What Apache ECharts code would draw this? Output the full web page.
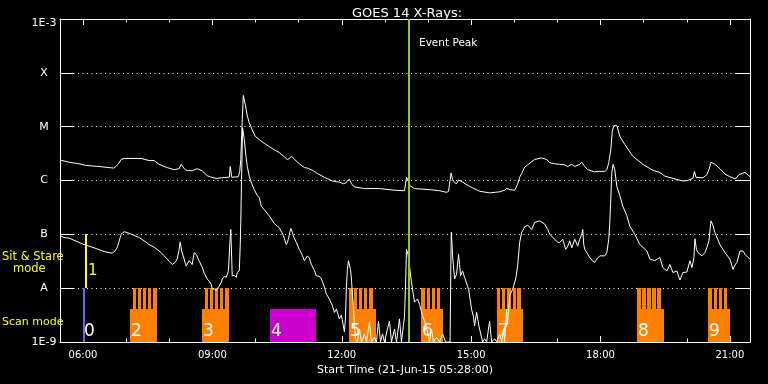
<!DOCTYPE html>
<html><head><meta charset="utf-8">
<script src="https://cdn.jsdelivr.net/npm/echarts@6/dist/echarts.min.js"></script>
<style>html,body{margin:0;padding:0;background:#000}#c{width:768px;height:384px}</style>
</head><body><div id="c"></div><script>
// Time: minutes after 00:00 UT, 21-Jun-2015.  Flux: log10(W/m^2).
const titleText = 'GOES 14 X-Rays:';
const axisTitle = 'Start Time (21-Jun-15 05:28:00)';
const timeMin = 328, timeMax = 1288;
const yLevels = [-9, -8, -7, -6, -5, -4, -3];
const yLabels = ['1E-9', 'A', 'B', 'C', 'M', 'X', '1E-3'];
const hourTicks = [360,420,480,540,600,660,720,780,840,900,960,1020,1080,1140,1200,1260];
const labelTicks = [360,540,720,900,1080,1260];
const eventPeak = 814;

// GOES long channel (1-8 A)
const longChannel = [[328,-5.62],[340.5,-5.66],[354.5,-5.69],[364.2,-5.72],[382.3,-5.74],[403.2,-5.77],[408.8,-5.70],[413,-5.61],[417.2,-5.59],[440.9,-5.59],[452,-5.63],[459,-5.63],[465.9,-5.70],[477.1,-5.76],[486.8,-5.80],[493.8,-5.78],[496.6,-5.70],[500.8,-5.78],[503.6,-5.81],[511.9,-5.82],[518.9,-5.78],[525.9,-5.82],[532.8,-5.91],[538.4,-5.94],[545.4,-5.96],[560.7,-5.94],[563.5,-5.94],[564.9,-5.74],[567,-5.94],[576,-5.93],[578.1,-5.83],[579.5,-5.61],[581.6,-4.87],[583,-4.42],[585.8,-4.59],[588.6,-4.80],[591.3,-4.93],[595.5,-5.06],[599.7,-5.18],[605.3,-5.24],[612.2,-5.31],[619.2,-5.37],[626.2,-5.43],[633.1,-5.48],[640.1,-5.56],[644.3,-5.61],[647.1,-5.59],[649.9,-5.55],[654,-5.60],[656.8,-5.64],[661,-5.69],[668,-5.76],[672.2,-5.77],[674.9,-5.75],[680.5,-5.82],[686.1,-5.87],[695.8,-5.94],[707,-6.01],[716.7,-6.03],[722.3,-6.06],[726.5,-6.04],[727.9,-6.00],[730.7,-5.98],[733.5,-6.06],[737.6,-6.12],[751.6,-6.15],[772.5,-6.15],[793.4,-6.18],[807.3,-6.19],[809.4,-6.17],[810.1,-5.94],[812.9,-6.02],[814.3,-6.09],[821.2,-6.15],[842.1,-6.17],[856.1,-6.19],[865.8,-6.22],[868.6,-6.20],[870.7,-6.19],[872.1,-5.86],[874.2,-5.98],[877,-6.04],[879.8,-6.06],[882.5,-5.99],[888.1,-6.03],[897.9,-6.11],[911.8,-6.20],[925.7,-6.23],[939.7,-6.21],[946.6,-6.18],[949.4,-6.15],[955,-6.17],[960.6,-6.18],[964.7,-6.07],[967.5,-5.94],[970.3,-5.87],[974.5,-5.75],[978.7,-5.71],[984.3,-5.65],[988.4,-5.61],[997.8,-5.58],[1005.2,-5.61],[1009.3,-5.67],[1016.3,-5.69],[1023.3,-5.70],[1030.2,-5.71],[1034.4,-5.74],[1040,-5.70],[1044.2,-5.74],[1051.1,-5.70],[1053.9,-5.66],[1056,-5.64],[1058.1,-5.74],[1062.3,-5.80],[1072,-5.84],[1079,-5.83],[1086,-5.83],[1088.8,-5.80],[1091.5,-5.67],[1094.3,-5.43],[1096.4,-5.09],[1098.5,-4.98],[1099.9,-4.95],[1102.7,-4.98],[1106.9,-5.18],[1113.8,-5.33],[1125,-5.55],[1138.9,-5.70],[1152.8,-5.81],[1162.6,-5.85],[1169.6,-5.92],[1183.5,-5.97],[1194.6,-6.01],[1201.6,-6.00],[1204.4,-5.98],[1208.6,-5.96],[1210.7,-5.83],[1212.8,-5.94],[1214.2,-5.96],[1222.5,-5.95],[1228.1,-5.89],[1230.9,-5.80],[1233.7,-5.66],[1239.2,-5.70],[1246.2,-5.78],[1253.2,-5.88],[1260.1,-5.93],[1267.1,-5.97],[1269.9,-5.94],[1272.7,-5.89],[1281,-5.85],[1288,-5.93]];

// GOES short channel (0.5-4 A)
const shortChannel = [[328,-7.02],[333.6,-7.06],[340.5,-7.07],[347.5,-7.11],[361.4,-7.19],[375.4,-7.25],[389.3,-7.32],[400.5,-7.35],[404.6,-7.31],[407.4,-7.25],[410.2,-7.13],[413,-7.00],[417.2,-6.95],[424.1,-6.98],[431.1,-7.02],[438.1,-7.06],[445,-7.12],[452,-7.19],[459,-7.24],[463.2,-7.28],[468.7,-7.34],[472.9,-7.40],[479.9,-7.50],[484.1,-7.56],[488.2,-7.52],[491,-7.46],[493.8,-7.28],[495.2,-7.14],[497.3,-7.31],[499.4,-7.40],[503.6,-7.59],[507.7,-7.49],[511.9,-7.56],[514.7,-7.34],[517.5,-7.37],[521.7,-7.50],[525.9,-7.61],[528.6,-7.72],[532.8,-7.83],[535.6,-7.87],[538.4,-7.93],[539.8,-8.01],[542.6,-8.02],[545.4,-8.04],[546.8,-8.05],[549.5,-7.96],[552.3,-7.89],[553.7,-7.83],[556.5,-7.78],[559.3,-7.80],[562.1,-7.69],[562.8,-7.57],[564.2,-7.19],[565.6,-6.91],[567,-7.50],[567.6,-7.77],[570.4,-7.76],[573.2,-7.80],[574.6,-7.71],[577.4,-7.68],[578.8,-7.19],[579.5,-6.78],[580.6,-5.98],[582,-5.02],[584.4,-5.24],[586.7,-5.55],[588.6,-5.74],[591.3,-5.92],[594.8,-6.06],[598.3,-6.17],[602.5,-6.28],[605.3,-6.32],[608.1,-6.48],[612.2,-6.54],[619.2,-6.66],[626.2,-6.80],[633.1,-6.88],[638.7,-7.02],[642.9,-7.19],[644.3,-7.15],[645.7,-7.09],[647.8,-6.96],[649.2,-6.89],[651.3,-6.96],[652.6,-7.03],[656.8,-7.15],[661,-7.28],[665.2,-7.39],[668,-7.49],[672.2,-7.40],[674.9,-7.44],[677.7,-7.56],[681.9,-7.67],[684.7,-7.77],[688.9,-7.78],[691.7,-7.83],[695.8,-7.98],[698.6,-8.11],[702.8,-8.20],[707,-8.33],[709.8,-8.45],[712.6,-8.39],[714,-8.39],[716.7,-8.57],[719.5,-8.50],[720.9,-8.51],[723.7,-8.81],[725.1,-8.57],[726.5,-7.96],[727.9,-7.65],[729.3,-7.49],[730.7,-7.52],[732.1,-7.65],[733.5,-7.83],[734.8,-8.11],[736.2,-8.33],[737.6,-8.67],[739,-8.94],[741.8,-9],[744.6,-8.76],[747.4,-9],[751.6,-8.85],[754.4,-9],[758.5,-8.63],[761.3,-9],[765.5,-8.91],[768.3,-9],[771.1,-8.61],[773.9,-9],[776.7,-8.85],[779.4,-9],[783.6,-8.76],[786.4,-8.61],[789.2,-9],[793.4,-8.76],[796.2,-9],[800.3,-8.57],[803.1,-9],[805.9,-8.67],[807.3,-8.54],[808.7,-7.96],[810.1,-7.28],[812.2,-7.37],[814.3,-7.59],[816.4,-7.83],[818.5,-8.02],[821.2,-8.26],[825.4,-8.20],[828.2,-8.30],[832.4,-8.51],[835.2,-8.61],[839.4,-8.81],[842.1,-9],[844.9,-8.76],[847.7,-9],[851.9,-8.91],[856.1,-9],[860.3,-8.85],[864.4,-9],[870.7,-9],[871.7,-7.65],[872.4,-6.96],[873.5,-7.19],[874.2,-7.40],[877,-7.83],[879.8,-7.74],[882.5,-7.37],[883.9,-7.56],[885.3,-7.77],[888.1,-7.68],[890.9,-7.80],[892.3,-7.83],[896.5,-8.02],[900.6,-8.39],[903.4,-8.54],[904.8,-8.70],[907.6,-8.45],[910.4,-8.67],[911.8,-8.76],[916,-9],[918.8,-8.94],[921.6,-9],[925.7,-8.61],[928.5,-9],[932.7,-8.94],[935.5,-9],[939.7,-8.85],[942.5,-9],[945.2,-8.76],[946.6,-9],[949.4,-8.39],[950.8,-8.67],[953.6,-8.14],[957.8,-8.02],[962,-7.83],[964.7,-7.59],[967.5,-7.15],[970.3,-6.97],[974.5,-6.86],[978.7,-6.83],[981.5,-6.87],[984.3,-6.91],[988.4,-6.78],[995.4,-6.75],[1002.4,-6.81],[1006.5,-6.91],[1009.3,-7.00],[1016.3,-7.09],[1020.5,-7.15],[1023.3,-7.15],[1027.4,-7.09],[1031.6,-7.28],[1034.4,-7.22],[1037.2,-7.12],[1040,-7.25],[1044.2,-7.09],[1048.3,-7.22],[1051.1,-7.09],[1053.9,-7.00],[1055.3,-6.91],[1056.7,-7.19],[1058.1,-7.28],[1062.3,-7.37],[1065.1,-7.43],[1069.2,-7.50],[1072,-7.52],[1074.8,-7.46],[1079,-7.40],[1086,-7.40],[1088.8,-7.34],[1091.5,-7.09],[1092.9,-6.78],[1094.3,-6.35],[1095.7,-5.86],[1097.5,-5.70],[1099.9,-5.80],[1102.7,-6.11],[1106.9,-6.28],[1111.1,-6.48],[1116.6,-6.65],[1120.8,-6.85],[1127.8,-7.00],[1134.7,-7.19],[1144.5,-7.31],[1148.7,-7.46],[1155.6,-7.49],[1162.6,-7.43],[1166.8,-7.62],[1172.4,-7.68],[1176.5,-7.56],[1180.7,-7.71],[1186.3,-7.68],[1190.5,-7.85],[1194.6,-7.71],[1200.2,-7.70],[1204.4,-7.49],[1207.2,-7.62],[1210,-7.43],[1211.4,-7.08],[1213.5,-7.28],[1215.6,-7.34],[1221.1,-7.40],[1225.3,-7.34],[1228.1,-7.24],[1230.9,-7.12],[1233.7,-6.75],[1236.4,-6.83],[1239.2,-6.97],[1246.2,-7.19],[1253.2,-7.34],[1260.1,-7.46],[1264.3,-7.65],[1267.1,-7.57],[1269.9,-7.52],[1274.1,-7.31],[1278.2,-7.31],[1281,-7.37],[1285.2,-7.43],[1288,-7.46]];

// Observations (timeline bars)
const obsNames  = ['0','1','2','3','4','5','6','7','8','9'];
const obsModes  = ['point','sit','scan','scan','special','scan','scan','scan','scan','scan'];
const obsStart  = [360.4, 362.8, 425.4, 526.0, 620.2, 730.1, 830.3, 935.6, 1130.4, 1229.6];
const obsEnd    = [363.2, 366.0, 462.5, 563.1, 684.2, 767.2, 860.5, 971.5, 1168.4, 1260.2];
const obsBottom = [-9, -8, -9, -9, -9, -9, -9, -9, -9, -9];
const obsTop    = [-8, -7, -8.39, -8.39, -8.39, -8.39, -8.39, -8.39, -8.39, -8.39];
const stripeTop = -8;
const obsStripes = [
  [], [],
  [[429.1,433.3],[436.5,440.7],[443.5,447.7],[450.4,455.0],[457.4,462.5]],
  [[529.7,533.9],[537.1,540.5],[543.7,547.4],[550.6,554.4],[558.0,563.1]],
  [],
  [[730.1,735.2],[737.5,740.8],[744.4,747.8],[751.4,754.7],[758.3,763.9]],
  [[830.3,835.8],[839.0,842.8],[846.0,849.7],[852.9,856.7]],
  [[935.6,940.2],[942.5,947.1],[950.3,955.5],[957.8,962.0],[964.2,969.4]],
  [[1131.2,1135.9],[1138.1,1142.9],[1145.1,1149.8],[1152.1,1156.8],[1159.1,1164.6]],
  [[1229.6,1235.6],[1237.9,1242.5],[1244.9,1249.5],[1251.9,1256.5]]
];

const FONT = '"DejaVu Sans", sans-serif';
const modeColor = {point:'#6464ff', sit:'#ffff00', scan:'#ff8000', special:'#cc00cc'};
const WHITE = '#ffffff';

function hhmm(v){ const h = Math.floor(v/60), m = Math.round(v - h*60); return String(h).padStart(2,'0') + ':' + String(m).padStart(2,'0'); }

function renderObs(params, api){
  const i = api.value(4);
  const pTL = api.coord([api.value(0), api.value(3)]);
  const pBR = api.coord([api.value(1), api.value(2)]);
  const x0 = Math.round(pTL[0]);
  const x1 = Math.max(Math.round(pBR[0]), x0 + 2);
  const y0 = Math.round(pTL[1]), y1 = Math.round(pBR[1]);
  const color = modeColor[obsModes[i]];
  const children = [{type:'rect', shape:{x:x0, y:y0, width:x1-x0, height:y1-y0}, style:{fill:color}}];
  obsStripes[i].forEach(function(s){
    const a = api.coord([s[0], stripeTop]), b = api.coord([s[1], -9]);
    const sx0 = Math.round(a[0]), sx1 = Math.round(b[0]);
    children.push({type:'rect', shape:{x:sx0, y:Math.round(a[1]), width:sx1-sx0, height:Math.round(b[1])-Math.round(a[1])}, style:{fill:color}});
  });
  const sit = obsModes[i] === 'sit';
  children.push({type:'text', x: sit ? x1 + 1 : x0 + 1, y: sit ? y1 - 17 : y1 - 10,
    style:{text: obsNames[i], fill: sit ? '#ffff00' : WHITE, font: (sit ? '15px ' : '17px ') + '"Liberation Sans Narrow", "DejaVu Sans", sans-serif', align:'left', verticalAlign:'middle'}});
  return {type:'group', children: children};
}

function renderEvent(params, api){
  const t = api.coord([api.value(0), -3]), b = api.coord([api.value(0), -9]);
  const x = Math.round(t[0]);
  return {type:'group', children:[
    {type:'line', shape:{x1:x, y1:t[1], x2:x, y2:b[1]}, style:{stroke:'#99cc00', lineWidth:2}},
    {type:'text', x: x + 10, y: t[1] + 24, style:{text:'Event Peak', fill:WHITE, font:'10.5px ' + FONT, align:'left', verticalAlign:'middle'}}
  ]};
}

const xBase = {type:'value', min:timeMin, max:timeMax, splitLine:{show:false}};
const tickStyle = {color: WHITE, width: 1};

const option = {
  backgroundColor: '#000',
  animation: false,
  title: {text: titleText, left: 402, top: 2, textAlign: 'center',
    textStyle: {color: WHITE, fontSize: 13, fontWeight: 'normal', fontFamily: FONT}},
  grid: {left: 60, right: 18, top: 19, bottom: 42, show: false, outerBoundsMode: 'none'},
  xAxis: [
    Object.assign({}, xBase, {position:'bottom',
      axisLine:{show:true, lineStyle:tickStyle},
      axisTick:{show:true, inside:true, length:6, lineStyle:tickStyle, customValues: labelTicks},
      axisLabel:{show:true, customValues: labelTicks, formatter: hhmm, color: WHITE, fontSize: 10, fontFamily: FONT, margin: 8},
      name: axisTitle, nameLocation: 'middle', nameGap: 20,
      nameTextStyle: {color: WHITE, fontSize: 11, fontFamily: FONT}}),
    Object.assign({}, xBase, {position:'bottom',
      axisLine:{show:false},
      axisTick:{show:true, inside:true, length:3.5, lineStyle:tickStyle, customValues: hourTicks},
      axisLabel:{show:false}}),
    Object.assign({}, xBase, {position:'top',
      axisLine:{show:true, lineStyle:tickStyle},
      axisTick:{show:true, inside:true, length:6, lineStyle:tickStyle, customValues: labelTicks},
      axisLabel:{show:false}}),
    Object.assign({}, xBase, {position:'top',
      axisLine:{show:false},
      axisTick:{show:true, inside:true, length:3.5, lineStyle:tickStyle, customValues: hourTicks},
      axisLabel:{show:false}})
  ],
  yAxis: [
    {type:'value', min:yLevels[0], max:yLevels[yLevels.length-1], interval:1, position:'left',
      axisLine:{show:true, lineStyle:tickStyle},
      axisTick:{show:true, inside:true, length:14, lineStyle:tickStyle},
      axisLabel:{show:true, color: WHITE, fontSize: 11, fontFamily: FONT, align:'center', margin:16,
        formatter: function(v){ const i = yLevels.indexOf(Math.round(v)); const s = i >= 0 ? yLabels[i] : ''; return i === yLevels.length-1 ? '{top|' + s + '}' : s; },
        rich: {top: {padding:[8,0,0,0], color: WHITE, fontSize: 11, fontFamily: FONT}}},
      splitLine:{show:true, lineStyle:{color: WHITE, width:1, type:[1,3.5]}}},
    {type:'value', min:yLevels[0], max:yLevels[yLevels.length-1], interval:1, position:'right',
      axisLine:{show:true, lineStyle:tickStyle},
      axisTick:{show:true, inside:true, length:14, lineStyle:tickStyle},
      axisLabel:{show:false}, splitLine:{show:false}}
  ],
  graphic: [
    {type:'text', left:2, top:251, style:{text:'Sit & Stare', fill:'#ffff00', font:'11.5px ' + FONT}},
    {type:'text', left:13, top:263, style:{text:'mode', fill:'#ffff00', font:'11.5px ' + FONT}},
    {type:'text', left:2, top:317, style:{text:'Scan mode', fill:'#ffff00', font:'11px ' + FONT}}
  ],
  series: [
    {type:'custom', name:'observations', xAxisIndex:0, yAxisIndex:0, z:1, clip:true,
      renderItem: renderObs,
      data: obsStart.map(function(s, i){ return [s, obsEnd[i], obsBottom[i], obsTop[i], i]; })},
    {type:'line', name:'long', xAxisIndex:0, yAxisIndex:0, z:2, data: longChannel, showSymbol:false, symbol:'none',
      lineStyle:{color: WHITE, width:1}, clip:true},
    {type:'line', name:'short', xAxisIndex:0, yAxisIndex:0, z:2, data: shortChannel, showSymbol:false, symbol:'none',
      lineStyle:{color: WHITE, width:1}, clip:true},
    {type:'custom', name:'event', xAxisIndex:0, yAxisIndex:0, z:3, renderItem: renderEvent, data:[[eventPeak, -3]]}
  ]
};
const chart = echarts.init(document.getElementById('c'), null, {renderer:'canvas'});
chart.setOption(option);
</script></body></html>
